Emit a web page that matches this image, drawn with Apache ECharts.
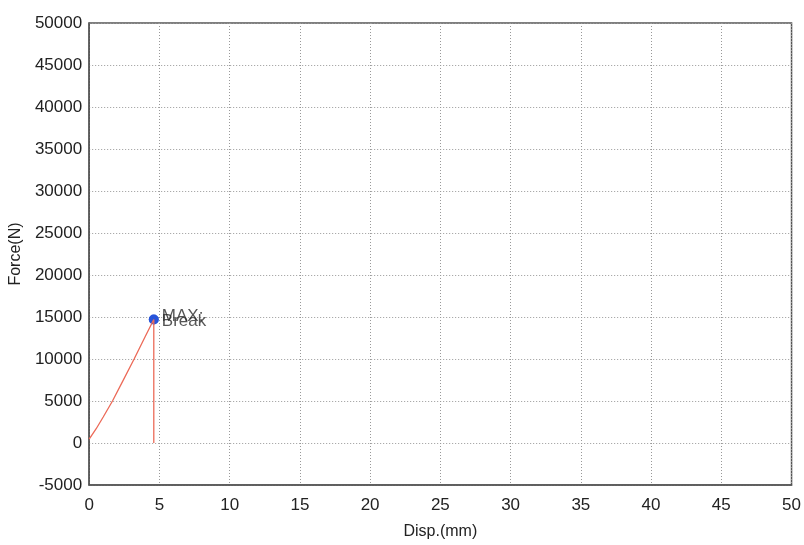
<!DOCTYPE html>
<html><head><meta charset="utf-8">
<script src="https://cdn.jsdelivr.net/npm/echarts@6/dist/echarts.min.js"></script>
<style>html,body{margin:0;padding:0;background:#fff}#c{width:804px;height:545px}</style>
</head><body><div id="c"></div>
<script>
const dispMm = [0, 0.5, 1.0, 1.66, 2.4, 3.2, 4.0, 4.6, 4.6];
const forceN = [450, 1700, 3100, 5000, 7400, 10000, 12700, 14700, 0];
const markerNames = ['MAX:', 'Break'];
const markerDisp = [4.6, 4.6];
const markerForce = [14700, 14700];

const chart = echarts.init(document.getElementById('c'));
const font = 'Liberation Sans, Arial, sans-serif';
const labelOffsets = [[0, -3], [0, 2]];
chart.setOption({
  animation: false,
  grid: {left: 89, right: 12, top: 23, bottom: 56, show: true, borderColor: '#555', borderWidth: 1.5, backgroundColor: 'transparent'},
  xAxis: {
    type: 'value', min: 0, max: 50, interval: 5,
    name: 'Disp.(mm)', nameLocation: 'middle', nameGap: 39,
    nameTextStyle: {fontFamily: font, fontSize: 16, color: '#222'},
    axisLine: {show: true, onZero: false, lineStyle: {color: '#555', width: 1.5}},
    axisTick: {show: false},
    axisLabel: {fontFamily: font, fontSize: 17, color: '#222', margin: 12},
    splitLine: {show: true, lineStyle: {color: '#999', type: [1, 2], width: 1}}
  },
  yAxis: {
    type: 'value', min: -5000, max: 50000, interval: 5000,
    name: 'Force(N)', nameLocation: 'middle', nameGap: 63,
    nameTextStyle: {fontFamily: font, fontSize: 16, color: '#222'},
    axisLine: {show: true, onZero: false, lineStyle: {color: '#555', width: 1.5}},
    axisTick: {show: false},
    axisLabel: {fontFamily: font, fontSize: 17, color: '#222', margin: 7, formatter: v => String(v)},
    splitLine: {show: true, lineStyle: {color: '#999', type: [1, 2], width: 1}}
  },
  series: [
    {type: 'line', data: dispMm.map((x, i) => [x, forceN[i]]), showSymbol: false, smooth: false,
     lineStyle: {color: '#ec6a58', width: 1.3}},
    {type: 'scatter', data: markerDisp.map((x, i) => ({value: [x, markerForce[i]], name: markerNames[i],
       label: {offset: labelOffsets[i]}})),
     symbolSize: 10, itemStyle: {color: '#1f4fd8'},
     label: {show: true, position: 'right', distance: 3, formatter: p => p.name, fontFamily: font, fontSize: 17, color: '#2a2a2a'}}
  ]
});
</script></body></html>
